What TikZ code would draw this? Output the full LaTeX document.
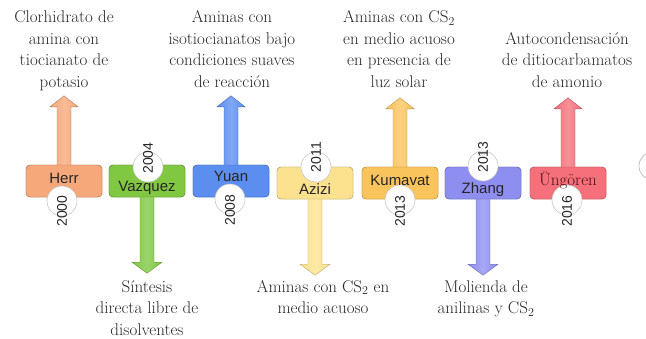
\documentclass[tikz,border=0pt]{standalone}
\usepackage{fontspec}
\newfontfamily\boxsans{Liberation Sans}
\usetikzlibrary{calc}
\definecolor{cHerr}{RGB}{246,168,122}
\definecolor{cVaz}{RGB}{128,200,66}
\definecolor{cYuan}{RGB}{92,142,240}
\definecolor{cAzizi}{RGB}{252,226,142}
\definecolor{cKum}{RGB}{250,196,92}
\definecolor{cZhang}{RGB}{142,142,240}
\definecolor{cUng}{RGB}{245,112,122}
\definecolor{labgray}{RGB}{40,40,40}
\newcommand\UpArr[2]{%
  \shade[left color=#2, right color=#2, middle color=#2!78!white, draw=#2!75!black, line width=0.4pt]
    ($(#1.north)+(-7,2)$) -- ($(#1.north)+(-7,-58)$) -- ($(#1.north)+(-14,-58)$) --
    ($(#1.north)+(0,-69)$) -- ($(#1.north)+(14,-58)$) -- ($(#1.north)+(7,-58)$) --
    ($(#1.north)+(7,2)$) -- cycle;}
\newcommand\DownArr[2]{%
  \shade[left color=#2, right color=#2, middle color=#2!78!white, draw=#2!75!black, line width=0.4pt]
    ($(#1.south)+(-7,-2)$) -- ($(#1.south)+(-7,65)$) -- ($(#1.south)+(-15,65)$) --
    ($(#1.south)+(0,76)$) -- ($(#1.south)+(15,65)$) -- ($(#1.south)+(7,65)$) --
    ($(#1.south)+(7,-2)$) -- cycle;}
\begin{document}
\begin{tikzpicture}[x=1pt,y=-1pt,
  evbox/.style={rounded corners=4pt, minimum width=76pt, minimum height=32pt, inner sep=0pt,
    draw=#1!70!black, line width=0.4pt, fill=#1},
  yearcirc/.style={circle, minimum size=30pt, inner sep=0pt, fill=white, draw=black!22, line width=0.6pt},
  yeartxt/.style={rotate=90, inner sep=0pt, font=\boxsans\fontsize{14}{14}\selectfont, text=black!85},
  nametxt/.style={inner sep=0pt, font=\boxsans\fontsize{15}{15}\selectfont, text=black!85},
  lab/.style={align=center, inner sep=0pt, anchor=north, text=labgray,
    font=\fontsize{17}{21.5}\selectfont}
]
\useasboundingbox (0,0) rectangle (646,338);
% boxes (placed first so arrows can start from them)
\node[evbox=cHerr]  (herr)  at (64,181) {};
\node[evbox=cVaz]   (vaz)   at (147,181) {};
\node[evbox=cYuan]  (yuan)  at (231,181) {};
\node[evbox=cAzizi] (azizi) at (315,183) {};
\node[evbox=cKum]   (kum)   at (400,183) {};
\node[evbox=cZhang] (zhang) at (483,183) {};
\node[evbox=cUng]   (ung)   at (568,183) {};
% arrows
\UpArr{herr}{cHerr}
\DownArr{vaz}{cVaz}
\UpArr{yuan}{cYuan}
\DownArr{azizi}{cAzizi}
\UpArr{kum}{cKum}
\DownArr{zhang}{cZhang}
\UpArr{ung}{cUng}
% redraw boxes on top of arrow shafts
\node[evbox=cHerr]  at (herr)  {};
\node[evbox=cVaz]   at (vaz)   {};
\node[evbox=cYuan]  at (yuan)  {};
\node[evbox=cAzizi] at (azizi) {};
\node[evbox=cKum]   at (kum)   {};
\node[evbox=cZhang] at (zhang) {};
\node[evbox=cUng]   at (ung)   {};
% year circles
\node[yearcirc] (c2000) at (62,201) {};
\node[yearcirc] (c2004) at (148,167) {};
\node[yearcirc] (c2008) at (230,199) {};
\node[yearcirc] (c2011) at (316,167) {};
\node[yearcirc] (c2013a) at (400,200) {};
\node[yearcirc] (c2013b) at (483,166) {};
\node[yearcirc] (c2016) at (567,200) {};
\node[circle, minimum size=28pt, inner sep=0pt, fill=white, draw=black!30, line width=0.6pt] (cnext) at (653,166) {};
% names
\node[nametxt] (nherr) at (64,178) {Herr};
\node[nametxt] (nvaz) at (147,188) {Vazquez};
\node[nametxt] (nyuan) at (231,176) {Yuan};
\node[nametxt] (nazizi) at (315,189) {Azizi};
\node[nametxt] (nkum) at (400,180) {Kumavat};
\node[nametxt] (nzhang) at (483,190) {Zhang};
\node[inner sep=0pt, text={rgb,255:red,80;green,15;blue,25}, font=\fontsize{17}{17}\selectfont] (nung) at (568,180) {Üngören};
% years
\node[yeartxt] (y2000) at (62,211) {2000};
\node[yeartxt] (y2004) at (148,158) {2004};
\node[yeartxt] (y2008) at (230,210) {2008};
\node[yeartxt] (y2011) at (316,157) {2011};
\node[yeartxt] (y2013a) at (400,211) {2013};
\node[yeartxt] (y2013b) at (483,157) {2013};
\node[yeartxt] (y2016) at (567,211) {2016};
% labels
\node[lab] (lherr) at (64,10.5) {Clorhidrato de\\amina con\\tiocianato de\\potasio};
\node[lab] (lyuan) at (232,10.5) {Aminas con\\isotiocianatos bajo\\condiciones suaves\\de reacción};
\node[lab] (lkum) at (399,10.5) {Aminas con CS$_2$\\en medio acuoso\\en presencia de\\luz solar};
\node[lab] (lung) at (567,32) {Autocondensación\\de ditiocarbamatos\\de amonio};
\node[lab] (lvaz) at (147,280) {Síntesis\\directa libre de\\disolventes};
\node[lab] (lazizi) at (323,280) {Aminas con CS$_2$ en\\medio acuoso};
\node[lab] (lzhang) at (486,280) {Molienda de\\anilinas y CS$_2$};
\end{tikzpicture}
\end{document}
